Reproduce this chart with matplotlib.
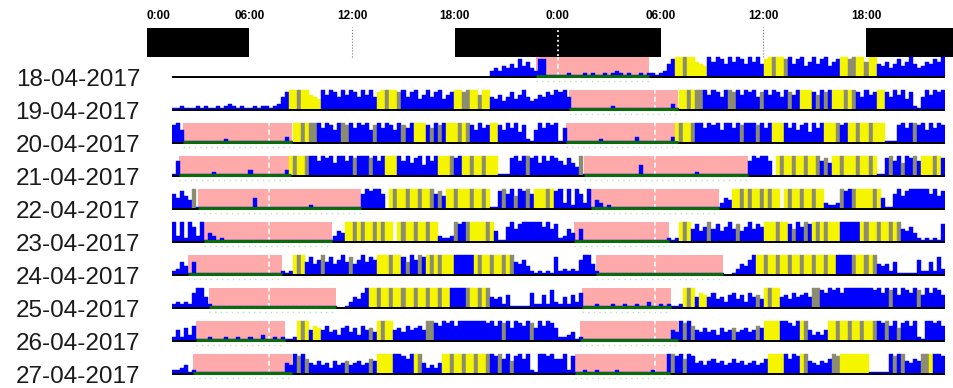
import matplotlib.pyplot as plt

# rows of the double-plotted actogram (left half = that day, right half = next day)
row_labels = ["18-04-2017", "19-04-2017", "20-04-2017", "21-04-2017", "22-04-2017",
              "23-04-2017", "24-04-2017", "25-04-2017", "26-04-2017", "27-04-2017"]

header_hours = [0, 6, 12, 18, 24, 30, 36, 42]
header_labels = ["0:00", "06:00", "12:00", "18:00", "0:00", "06:00", "12:00", "18:00"]
dark_periods = [(0, 6), (18, 30), (42, 54)]
grid_hours = [12, 36]

# activity per 15 min bin (0-9), one group per hour; colour b=blue, y=yellow, g=grey
act_18 = "0000 0000 0000 0000 0000 0000 0000 0000 0000 0000 0000 0000 0000 0000 0000 0000 0000 0000 0000 0003 4354 6485 7438 8111"
col_18 = "bbbb " * 24
act_19 = "1121 1121 2112 1232 1211 2122 1236 8999 9976 5979 8697 9869 7968 9999 8968 9579 6895 7899 8999 7996 5746 8579 6457 6879"
col_19 = "bbbb bbbb bbbb bbbb bbbb bbbb bbbb byyg yyyy ybbb bbbb bbbb bbby ygyy gbbb bbbb bbbb bbyy ggyy gyyb bbbb bbbb bbbb bbbb"
act_20 = "8961 1111 1111 1211 1111 1111 1111 3199 9999 9798 6998 9798 9689 7986 9879 9998 7989 9999 9986 9789 9869 7958 2169 7989"
col_20 = "bbbb bbbb bbbb bbbb bbbb bbbb bbbb bbyy gygg bbbb bbgg bbbb bbgb bbbb bgbb yyyb gbgb yyyg ygbb bbby ybbb bbbb bbbb bbbb"
act_21 = "1711 1111 1121 1111 1113 1111 1111 3999 9999 7989 6997 9899 9897 9999 9796 8959 7999 9989 9999 9999 9111 8979 9896 9798"
col_21 = "bbbb bbbb bbbb bbbb bbbb bbbb bbbb bygy ygbb bbbb bbbb bgbb bgbb byyy bbbb bbbb bbyy ygbb yygy ygyy ybbb bbbb gbbb bbbb"
act_22 = "7586 4911 1111 1111 1111 5111 1111 1111 1121 1111 1111 1117 9899 7099 9999 9999 9786 9999 9999 9991 1897 9698 9799 9998"
col_22 = "bbbb bgbb bbbb bbbb bbbb bbbb bbbb bbbb bbbb bbbb bbbb bbbb bbbb bbyg yygy ygyy gbgb yygy yygy ygyb bbgb bgbb gbyy ygyb"
act_23 = "9392 9739 1431 2111 1111 1111 1111 1111 1111 1111 3549 9999 9999 9990 9999 9999 9932 2398 9999 9999 5117 9689 9999 7968"
col_23 = "bbbb bbbb bbbb bbbb bbbb bbbb bbbb bbbb bbbb bbbb bbby ygyg yygy gyyb ygyy gyyg yybb bbgb bgyy yygy bbbb bbbb bbbb bbbb"
act_24 = "2364 1611 1111 1111 1111 1111 1112 1299 9685 7968 5796 8579 6879 9999 9869 7989 9999 9999 9999 9999 9999 9657 4212 1218"
col_24 = "bbbb bbbb bbbb bbbb bbbb bbbb bbbb bbyg ybbb bgbb bbbb gbbb bbby yygy ybgb bgby gygy yybb bbby gyyg yygy gbbb bbbb bbbb"
act_25 = "2323 2799 5211 1111 1111 1111 1111 1111 1111 1111 1001 3547 9999 9999 9999 9999 9999 9999 9999 9995 4526 1111 1722 6283"
col_25 = "bbbb bbbb bbbb bbbb bbbb bbbb bbbb bbbb bbbb bbbb bbbb bbbb byyg yygy ygyy gyyg yygy ybbb bgyy gygb bbbb bbbb bbbb bbbb"
act_26 = "2526 3711 1211 1211 2112 1131 1212 1129 9957 6574 5367 4637 5649 9995 6475 6759 9879 8979 9999 9989 7989 6987 9869 7986"
col_26 = "bbbb bbbb bbbb bbbb bbbb bbbb bbbb bbby gyby ybbb bbbb bbbb bgby gyyb bbbb bbbg gbbb bbbb bbbb bbbb bbgb bbbb bgbb bbbb"
act_27 = "2234 1211 1111 1111 1111 1111 1111 5498 9754 6453 6456 4564 5769 9999 9879 9953 4359 9999 9999 9999 8979 6897 9219 9897"
col_27 = "bbbb bbbb bbbb bbbb bbbb bbbb bbbb bbbg bgbb bbbb bbbg bbbb bgby yyyb bbbb ygbb bbby ygyy gyyg yygb bgbb gbbb bbbb bbbb"
act_28 = "7928 1121 1211 1121 1111 1112 1119 9897 9856 4675 6457 5645 6457 9999 9798 9965 4657 9899 9999 9111 1198 9965 7699 9998"
col_28 = "bbbb bbbb bbbb bbbb bbbb bbbb bbbb gbbg bbbb bbbb bbbb bbbb bbbb yyyy bbbb ygbb bbbb ggyy yyyy ybbb bbbg bgbb bbgg ybbb"

activity = [act_18, act_19, act_20, act_21, act_22, act_23, act_24, act_25, act_26, act_27, act_28]
bin_colors = [col_18, col_19, col_20, col_21, col_22, col_23, col_24, col_25, col_26, col_27, col_28]

# sleep episodes (hours from midnight) for days 19-04 .. 28-04
sleep_start = [-1.4, 0.67, 0.45, 1.6, 2.0, 0.98, 2.3, 1.47, 1.32, 1.0]
sleep_end = [5.6, 7.45, 7.4, 11.75, 9.95, 6.85, 10.2, 7.0, 7.45, 6.9]

palette = {"b": "#0000ff", "y": "#f5f500", "g": "#8c8c70"}
BIN = 0.25
FULL = 0.61   # bar height of level 9 in row units

fig = plt.figure(figsize=(9.54, 3.88), dpi=100)
fig.patch.set_facecolor("white")

# --- rows ---
ax = fig.add_axes([172 / 954, 0, 773 / 954, 1])
ax.set_xlim(0, 48)
ax.set_ylim(9.415, -2.342)
ax.patch.set_alpha(0)
for s in ax.spines.values():
    s.set_visible(False)
ax.set_xticks([])
ax.set_yticks(range(len(row_labels)), row_labels, fontsize=17.5,
              family=["Liberation Sans", "DejaVu Sans"], color="#1a1a1a")
ax.tick_params(axis="y", length=0, pad=23)

for r in range(len(row_labels)):
    # sleep shading: right half always, left half not for the first two rows
    spans = [(24 + sleep_start[r], 24 + sleep_end[r])]
    if r >= 2:
        spans.append((sleep_start[r - 1], sleep_end[r - 1]))
    for s0, s1 in spans:
        ax.bar(s0, -FULL, width=s1 - s0, bottom=r, align="edge",
               color="#ffaaaa", lw=0, zorder=1)
        for t in (0, 6, 24, 30):
            if s0 < t < s1:
                ax.plot([t, t], [r, r - FULL], color="white", ls=(0, (3, 2)),
                        lw=1.2, zorder=1.5)
        ax.hlines(r - 0.035, s0, s1, color="#0b6b0b", lw=2.2, zorder=4)
        # faint speckle under the sleep bar
        ax.hlines(r + 0.1, s0, s1, color="#c4dcc0", lw=1.0, ls=(0, (1, 3)), zorder=1)

    for offset, day in ((0, r), (24, r + 1)):
        h = activity[day].replace(" ", "")
        c = bin_colors[day].replace(" ", "")
        assert len(h) == 96 and len(c) == 96, (day, len(h), len(c))
        xs = [offset + i * BIN for i in range(96) if h[i] != "0"]
        hs = [-int(h[i]) * FULL / 9 for i in range(96) if h[i] != "0"]
        cs = [palette[c[i]] for i in range(96) if h[i] != "0"]
        ax.bar(xs, hs, width=BIN, bottom=r, align="edge", color=cs,
               edgecolor=cs, lw=0.3, zorder=2)

ax.hlines(range(len(row_labels)), 0, 48, color="black", lw=1.4, zorder=3)

# --- light/dark header ---
axh = fig.add_axes([146.5 / 954, (388 - 57.3) / 388, (954 - 146.5) / 954, 29 / 388])
axh.set_xlim(0, 47.13)
axh.set_ylim(0, 1)
axh.patch.set_alpha(0)
for a, b in dark_periods:
    axh.axvspan(a, b, color="black", lw=0)
for t in grid_hours:
    axh.axvline(t, 0, 1.05, color="#777777", ls=":", lw=0.8, clip_on=False)
axh.axvline(24, 0.05, 0.95, color="white", ls=":", lw=1.3)
for s in axh.spines.values():
    s.set_visible(False)
axh.set_yticks([])
axh.xaxis.tick_top()
axh.set_xticks(header_hours, header_labels, fontsize=8.5, fontweight="bold",
               family=["Liberation Sans Narrow", "Liberation Sans", "DejaVu Sans"])
axh.tick_params(axis="x", length=0, pad=4.5)
axh.get_xticklabels()[0].set_ha("left")

fig.savefig("out.png", dpi=100, facecolor="white")
